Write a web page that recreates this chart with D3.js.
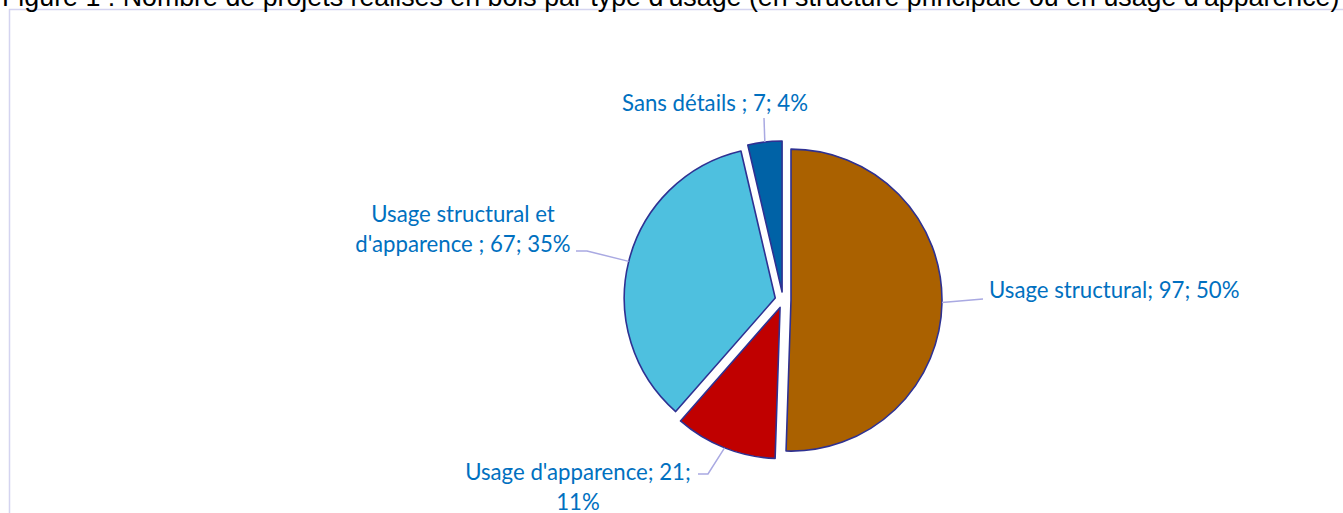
<!DOCTYPE html>
<html>
<head>
<meta charset="utf-8">
<script src="https://cdn.jsdelivr.net/npm/d3@7"></script>
<style>
  body { margin: 0; background: #fff; }
  svg { display: block; }
</style>
</head>
<body>
<div id="chart"></div>
<script type="text/javascript">
  // data
  const title = "Figure 1 : Nombre de projets réalisés en bois par type d'usage (en structure principale ou en usage d'apparence)";
  const categories = ["Usage structural", "Usage d'apparence", "Usage structural et d'apparence ", "Sans détails "];
  const values = [97, 21, 67, 7];
  const percents = ["50%", "11%", "35%", "4%"];

  // layout / style
  const width = 1343, height = 513,
    cx = 783, cy = 300, radius = 151, explode = 8,
    colors = ["#AA6100", "#C00000", "#4EC0DF", "#0062A6"],
    textColor = "#0070C0",
    leaderColor = "#A9A9E2";

  // where each label sits (offset from centre) and where its text wraps
  const labelLayout = [
    { dx: 206, dy: -2, anchor: "start", breakAt: null, elbow: [200, -1] },
    { dx: -205, dy: 180, anchor: "middle", breakAt: 22, elbow: [-75, 174], tail: [-85, 174] },
    { dx: -320, dy: -78, anchor: "middle", breakAt: 19, elbow: [-196, -49], tail: [-207, -49] },
    { dx: -68, dy: -189, anchor: "middle", breakAt: null, elbow: [-19, -182] }
  ];

  const svg = d3.select("#chart").append("svg")
    .attr("width", width)
    .attr("height", height);

  // frame of the chart area
  svg.append("rect")
    .attr("x", 9.5)
    .attr("y", 9.5)
    .attr("width", width + 20)
    .attr("height", height + 20)
    .attr("fill", "none")
    .attr("stroke", "#D4D4F0")
    .attr("stroke-width", 1.5);

  // title, cut at the top as in the source
  svg.append("text")
    .attr("x", 2)
    .attr("y", 6)
    .style("font-family", "'Liberation Sans', Arial, sans-serif")
    .style("font-size", "26.8px")
    .attr("fill", "#000")
    .text(title);

  const data = categories.map(function(c, i) {
    return { name: c, value: values[i], pct: percents[i], i: i };
  });

  const pie = d3.pie()
    .sort(null)
    .value(function(d) { return d.value; });

  const arc = d3.arc()
    .innerRadius(0)
    .outerRadius(radius);

  const arcs = pie(data);

  const g = svg.append("g")
    .attr("transform", "translate(" + cx + "," + cy + ")");

  function offset(d, r) {
    const a = (d.startAngle + d.endAngle) / 2;
    return [Math.sin(a) * r, -Math.cos(a) * r];
  }

  g.selectAll("path.slice")
    .data(arcs)
    .enter()
    .append("path")
    .attr("class", "slice")
    .attr("d", arc)
    .attr("transform", function(d) {
      const o = offset(d, explode);
      return "translate(" + o[0] + "," + o[1] + ")";
    })
    .style("fill", function(d) { return colors[d.data.i]; })
    .style("stroke", "#2E3192")
    .style("stroke-width", "1.6px")
    .style("stroke-linejoin", "round");

  // leader lines
  g.selectAll("polyline.leader")
    .data(arcs)
    .enter()
    .append("polyline")
    .attr("class", "leader")
    .attr("points", function(d) {
      const L = labelLayout[d.data.i];
      const pts = [offset(d, radius + explode), L.elbow];
      if (L.tail) pts.push(L.tail);
      return pts.map(function(p) { return p.join(","); }).join(" ");
    })
    .style("fill", "none")
    .style("stroke", leaderColor)
    .style("stroke-width", "1.5px");

  // labels
  const labels = g.selectAll("text.label")
    .data(arcs)
    .enter()
    .append("text")
    .attr("class", "label")
    .attr("x", function(d) { return labelLayout[d.data.i].dx; })
    .attr("y", function(d) { return labelLayout[d.data.i].dy; })
    .attr("text-anchor", function(d) { return labelLayout[d.data.i].anchor; })
    .style("font-family", "Lato, 'Open Sans', sans-serif")
    .style("font-size", "22.2px")
    .attr("fill", textColor);

  labels.each(function(d) {
    const L = labelLayout[d.data.i];
    const full = d.data.name + "; " + d.data.value + "; " + d.data.pct;
    const lines = L.breakAt ? [full.slice(0, L.breakAt).trim(), full.slice(L.breakAt).trim()] : [full];
    d3.select(this).selectAll("tspan")
      .data(lines)
      .enter()
      .append("tspan")
      .attr("x", L.dx)
      .attr("dy", function(t, k) { return k === 0 ? 0 : 30; })
      .text(function(t) { return t; });
  });
</script>
</body>
</html>
